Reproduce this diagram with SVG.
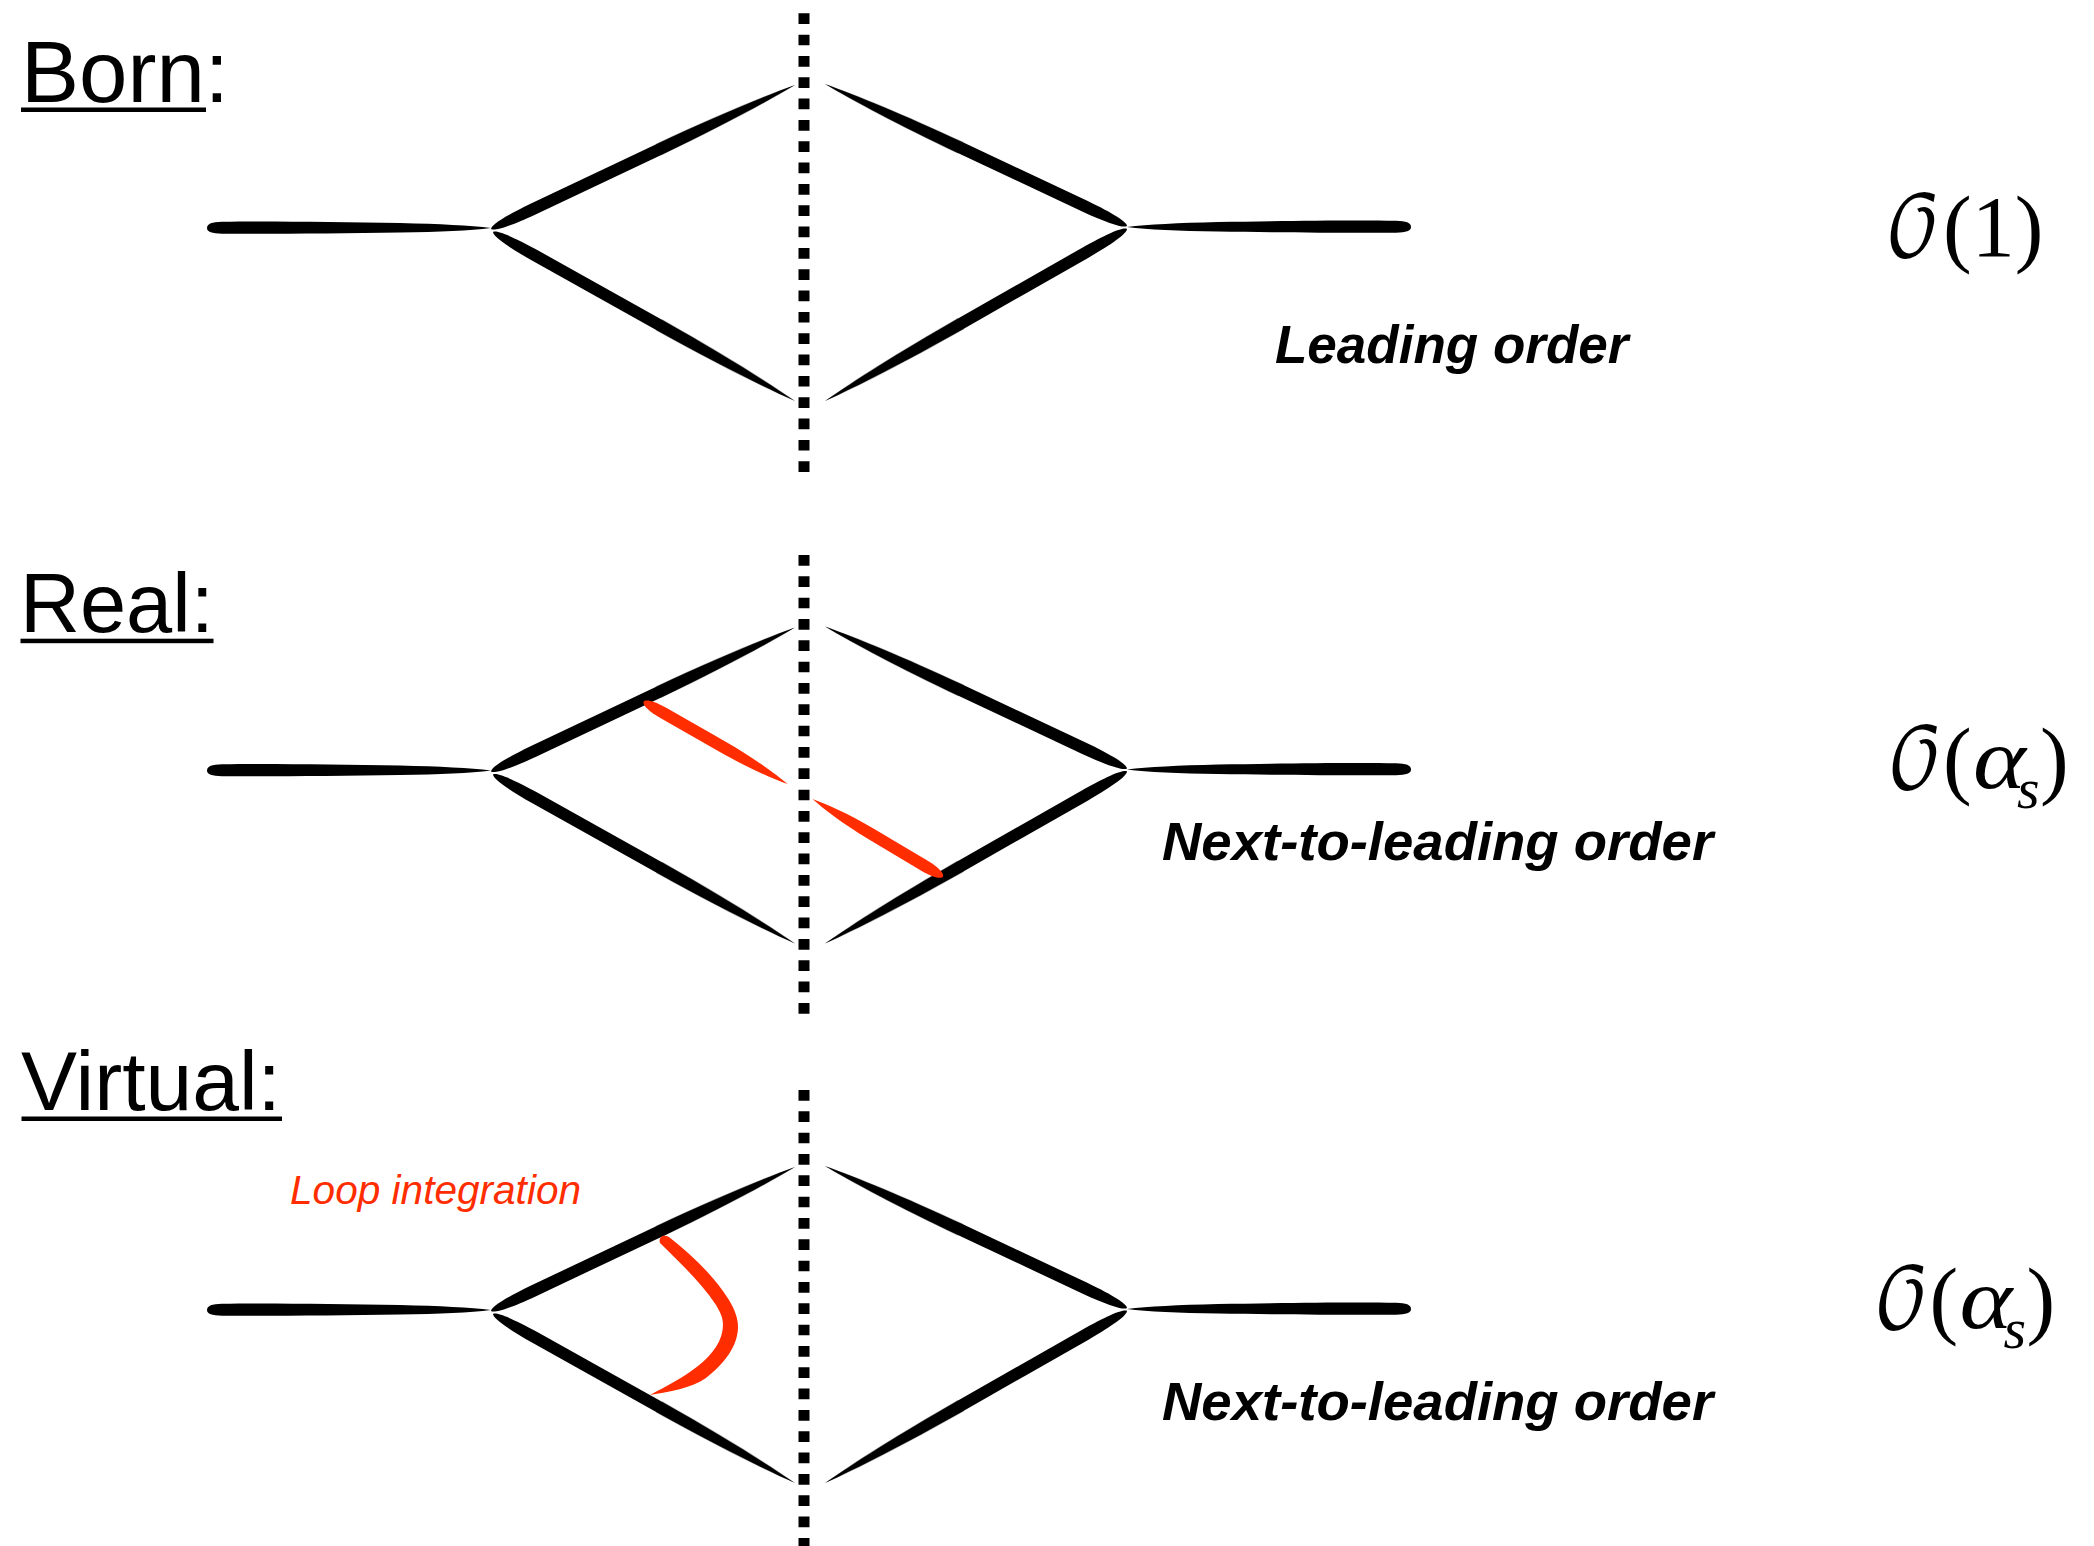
<svg xmlns="http://www.w3.org/2000/svg" xmlns:xlink="http://www.w3.org/1999/xlink" width="2094" height="1546" viewBox="0 0 2094 1546">
<style>
.h{font-family:"Liberation Sans",Arial,sans-serif;font-size:84px;fill:#000}
.o{font-family:"Liberation Sans",Arial,sans-serif;font-weight:bold;font-style:italic;fill:#000}
.l{font-family:"Liberation Sans",Arial,sans-serif;font-style:italic;font-size:40.6px;fill:#ff2d00}
.m{font-family:"Liberation Serif","Times New Roman",serif;font-size:86px;fill:#000}
.c{font-family:"DejaVu Math TeX Gyre","Liberation Serif",serif;font-size:86px;fill:#000}
.i{font-style:italic}
.s{font-style:italic;font-size:58px}
.cut{stroke:#000;stroke-width:11;stroke-dasharray:10.7 10.63;fill:none}
.red{fill:#ff2d00}
.feather{opacity:.35}
</style>
<defs>
<path id="brush" d="M0,0 C.6,-3.5 5,-5.6 14,-5.9 L55,-5.9 C75,-5.6 90,-3 100,0 C90,3 75,5.6 55,5.9 L14,5.9 C5,5.6 .6,3.5 0,0Z"/>
<path id="feather" d="M55,-6.4 C75,-6.2 90,-3.8 100,0 C90,3.8 75,6.2 55,6.4Z"/>
<path id="hbrush" d="M207,227 C207,222.5 212,221 222,220.7 C270,220 340,221 400,222 C440,223 470,224.5 491,227 C470,229.5 440,231 400,231.5 C340,232.5 270,233 222,232.7 C212,232.5 207,231 207,227Z"/>
<g id="diamond">
<use xlink:href="#hbrush" href="#hbrush"/>
<use xlink:href="#hbrush" href="#hbrush" transform="matrix(-1 0 0 1 1618 -1)"/>
<g id="edge-ul" transform="matrix(3.04 -1.44 .4281 .9037 491 228)"><use href="#brush"/><use href="#feather" class="feather"/></g>
<g id="edge-ll" transform="matrix(3.02 1.69 -.4884 .8727 493 231)"><use href="#brush"/><use href="#feather" class="feather"/></g>
<g id="edge-ur" transform="matrix(-3.02 -1.42 .4255 -.905 1127 225)"><use href="#brush"/><use href="#feather" class="feather"/></g>
<g id="edge-lr" transform="matrix(-3.02 1.72 -.495 -.869 1127 228)"><use href="#brush"/><use href="#feather" class="feather"/></g>
</g>
</defs>
<rect width="2094" height="1546" fill="#fff"/>

<g id="connectors">
<use href="#diamond" y="1"/>
<use href="#diamond" y="543.5"/>
<use href="#diamond" y="1083"/>
<line class="cut" x1="804" y1="13.3" x2="804" y2="472"/>
<line class="cut" x1="804" y1="555" x2="804" y2="1014"/>
<line class="cut" x1="804" y1="1090" x2="804" y2="1546"/>
<g id="real-emission" class="red">
<use href="#brush" transform="matrix(1.44 .823 -.496 .868 643.6 701.7)"/>
<use href="#brush" transform="matrix(-1.305 -.777 .512 -.859 943 876.7)"/>
</g>
<path id="virtual-loop" class="red" d="M660,1243 C658,1236 664,1234 669,1237 C691,1254 714,1276 729,1300 C735,1310 738,1319 738,1327 C738,1346 724,1364 706,1378 C692,1388 668,1392 650,1395 C667,1386 684,1377 698,1366 C713,1354 723,1340 723,1325 C723,1317 720,1312 716,1305 C700,1281 679,1262 660,1243Z"/>
</g>

<g id="born">
<text class="h" x="21" y="101.7" style="font-size:87px">Born:</text>
<rect x="21" y="107.5" width="185" height="4.5"/>
<text class="o" x="1275" y="362.7" font-size="53">Leading order</text>
<text class="c" transform="translate(1885 255.7) scale(.82 .97)">𝒪</text>
<text class="m" x="1943" y="255.7">(1)</text>
</g>

<g id="real">
<text class="h" x="20" y="632.3" style="font-size:83px">Real:</text>
<rect x="20.5" y="638.7" width="193" height="4.5"/>
<text class="o" x="1162" y="860" font-size="54.5">Next-to-leading order</text>
<text class="c" transform="translate(1887 787.5) scale(.82 .97)">𝒪</text>
<text class="m" x="1943" y="787.5">(</text>
<text class="m i" transform="translate(1973 787.5) scale(1.17 1)">α</text>
<text class="m s" x="2017" y="808">s</text>
<text class="m" x="2040" y="787.5">)</text>
</g>

<g id="virtual">
<text class="h" x="21" y="1110">Virtual:</text>
<rect x="21.5" y="1116.5" width="260.5" height="4.5"/>
<text class="l" x="290" y="1204">Loop integration</text>
<text class="o" x="1162" y="1420" font-size="54.5">Next-to-leading order</text>
<text class="c" transform="translate(1873.5 1327.5) scale(.82 .97)">𝒪</text>
<text class="m" x="1929.5" y="1327.5">(</text>
<text class="m i" transform="translate(1959.5 1327.5) scale(1.17 1)">α</text>
<text class="m s" x="2003.5" y="1348">s</text>
<text class="m" x="2026.5" y="1327.5">)</text>
</g>
</svg>
